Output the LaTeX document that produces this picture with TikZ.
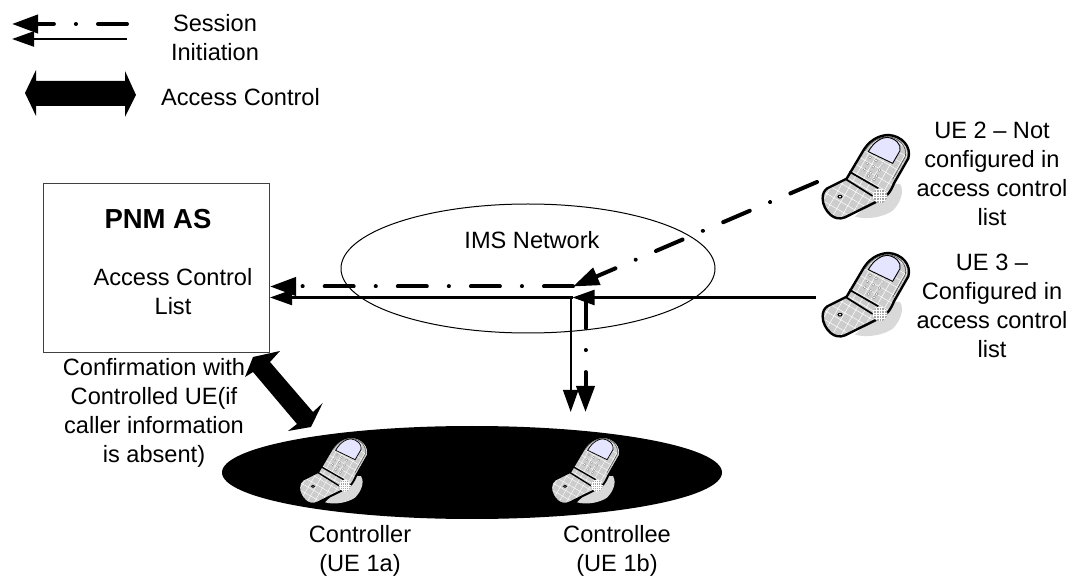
\documentclass[tikz,border=0pt]{standalone}
\usepackage{fontspec}
\setmainfont{Liberation Sans}
\usetikzlibrary{arrows.meta,shapes.geometric}
\tikzset{
  lbl/.style={font=\fontsize{23.6}{29}\selectfont,inner sep=0pt,align=center},
  dashdot/.style={line width=4pt,line cap=round,dash pattern=on 29pt off 22pt on 0.1pt off 22pt,-{Triangle[length=26pt,width=18pt]}},
  solidarrow/.style={line width=2.3pt,-{Triangle[length=22pt,width=15pt]}},
  bigarrow/.style={fill=black,draw=none},
}
\newcommand{\phonedraw}[3]{%
\begin{scope}[shift={(#1,#2)},x=#3*0.3333pt,y=-#3*0.3333pt]
  \fill[black!15] (270,190)--(300,192).. controls (315,215) and (300,250) .. (278,272).. controls (250,292) and (200,300) .. (165,290)--cycle;
  \def\outl{(68,235).. controls (68,222) and (72,212) .. (82,205)--(140,176)--(185,100).. controls (205,62) and (235,46) .. (265,45).. controls (305,47) and (335,80) .. (325,115)--(282,190).. controls (272,215) and (260,232) .. (240,240)--(135,292).. controls (120,298) and (105,296) .. (92,285).. controls (78,272) and (68,255) .. (68,235)--cycle}
  \begin{scope}
    \clip \outl;
    \fill[black!20] (0,0) rectangle (360,330);
    \begin{scope}[rotate around={-30:(180,170)}]
    \foreach \k in {-240,-216,...,600}{
      \draw[white,line width=#3*0.5pt] (\k,-300)--(\k,600);
      \draw[white,line width=#3*0.5pt] (-300,\k)--(600,\k);
    }
    \end{scope}
  \end{scope}
  \draw[line width=#3*2.4pt,line join=round,black] \outl;
  \draw[line width=#3*0.6pt,black!70] (195,92).. controls (215,60) and (240,52) .. (265,50).. controls (300,55) and (322,80) .. (316,110)--(278,178);
  \fill[blue!10!white,draw=black,line width=#3*0.9pt] (205,95).. controls (222,65) and (245,52) .. (262,52).. controls (285,55) and (305,72) .. (300,92)--(278,130)--cycle;
  \draw[line width=#3*1.7pt] (148,155)--(235,205);
  \draw[line width=#3*1.7pt] (138,178)--(218,228);
  \begin{scope}
    \clip (240,228) circle[radius=22];
    \fill[black!35] (240,228) circle[radius=22];
    \foreach \k in {-20,-12,...,20}
      \draw[white,line width=#3*0.3pt] (240+\k,206)--(240+\k,250) (218,228+\k)--(262,228+\k);
  \end{scope}
  \foreach \a/\b in {210/112,228/122,246/132,202/130,220/140,238/150,194/148,212/158,230/168,205/168,222/178}
    \fill[white,draw=black!50,line width=#3*0.3pt] (\a,\b) circle[radius=4.5];
  \draw[line width=#3*1pt,fill=white] (120,230) ellipse[x radius=6,y radius=4];
\end{scope}}
\begin{document}
\begin{tikzpicture}[x=1pt,y=-1pt]
\useasboundingbox (0,0) rectangle (1072,577);
\fill[white] (0,0) rectangle (1072,577);
% legend
\coordinate (ls1) at (127,24); \coordinate (le1) at (12,24);
\coordinate (ls2) at (127,39); \coordinate (le2) at (12,39);
\draw[dashdot] (ls1)--(le1);
\draw[solidarrow] (ls2)--(le2);
\node[lbl] (sess) at (215,37.5) {Session\\Initiation};
\fill[bigarrow] (25,93)--(36,70)--(36,81)--(125,81)--(125,71)--(136,95)--(125,117)--(125,106)--(36,106)--(36,116)--cycle;
\node[lbl] (acc) at (240.5,97) {Access Control};
% PNM box
\node[draw=black!75,line width=1pt,minimum width=226pt,minimum height=169pt,inner sep=0pt,anchor=north west] (pnm) at (43,183) {};
\node[lbl,font=\bfseries\fontsize{27.5}{32}\selectfont] (pnmt) at (158,219) {PNM AS};
\node[lbl] (acl) at (173,291.5) {Access Control\\List};
\node[lbl] (conf) at (154,412.5) {Confirmation with\\Controlled UE(if\\caller information\\is absent)};
% IMS
\node[draw=black,line width=1pt,ellipse,minimum width=374pt,minimum height=129pt,inner sep=0pt] (ims) at (528,268.5) {};
\node[lbl] (imst) at (532,240) {IMS Network};
% black ellipse
\node[fill=black,ellipse,minimum width=500pt,minimum height=93pt,inner sep=0pt] (group) at (472,472.5) {};
% big diagonal arrow
\fill[bigarrow] (253,357)--(280,351)--(270,362)--(313,412)--(322.7,403)--(311,427)--(288,431)--(297,424)--(253,372)--(245,377)--cycle;
% phones
\phonedraw{800}{120}{1}
\phonedraw{800}{238}{1}
\phonedraw{281}{425}{0.8}
\phonedraw{533}{425}{0.8}
% connectors
\coordinate (ue2) at (817,182);
\coordinate (mid1) at (573,286.5);
\coordinate (pnm1) at (270,286.5);
\coordinate (ue3) at (816,297.5);
\coordinate (mid2) at (572.5,297.5);
\coordinate (pnm2) at (270,297.5);
\coordinate (bend) at (570.7,297.5);
\coordinate (down1) at (570.7,412);
\coordinate (up2) at (585.5,299);
\coordinate (down2) at (585.5,412);
\draw[dashdot] (ue2)--(mid1);
\draw[dashdot] (mid1)--(pnm1);
\draw[solidarrow] (mid2)--(pnm2);
\draw[solidarrow] (ue3)--(mid2);
\draw[solidarrow] (bend)--(down1);
\draw[dashdot] (up2)--(down2);
% labels
\node[lbl] (ue2t) at (992,173.5) {UE 2 -- Not\\configured in\\access control\\list};
\node[lbl] (ue3t) at (992,305.5) {UE 3 --\\Configured in\\access control\\list};
\node[lbl] (c1) at (360,551) {Controller\\(UE 1a)};
\node[lbl] (c2) at (617,551) {Controllee\\(UE 1b)};
\end{tikzpicture}
\end{document}
